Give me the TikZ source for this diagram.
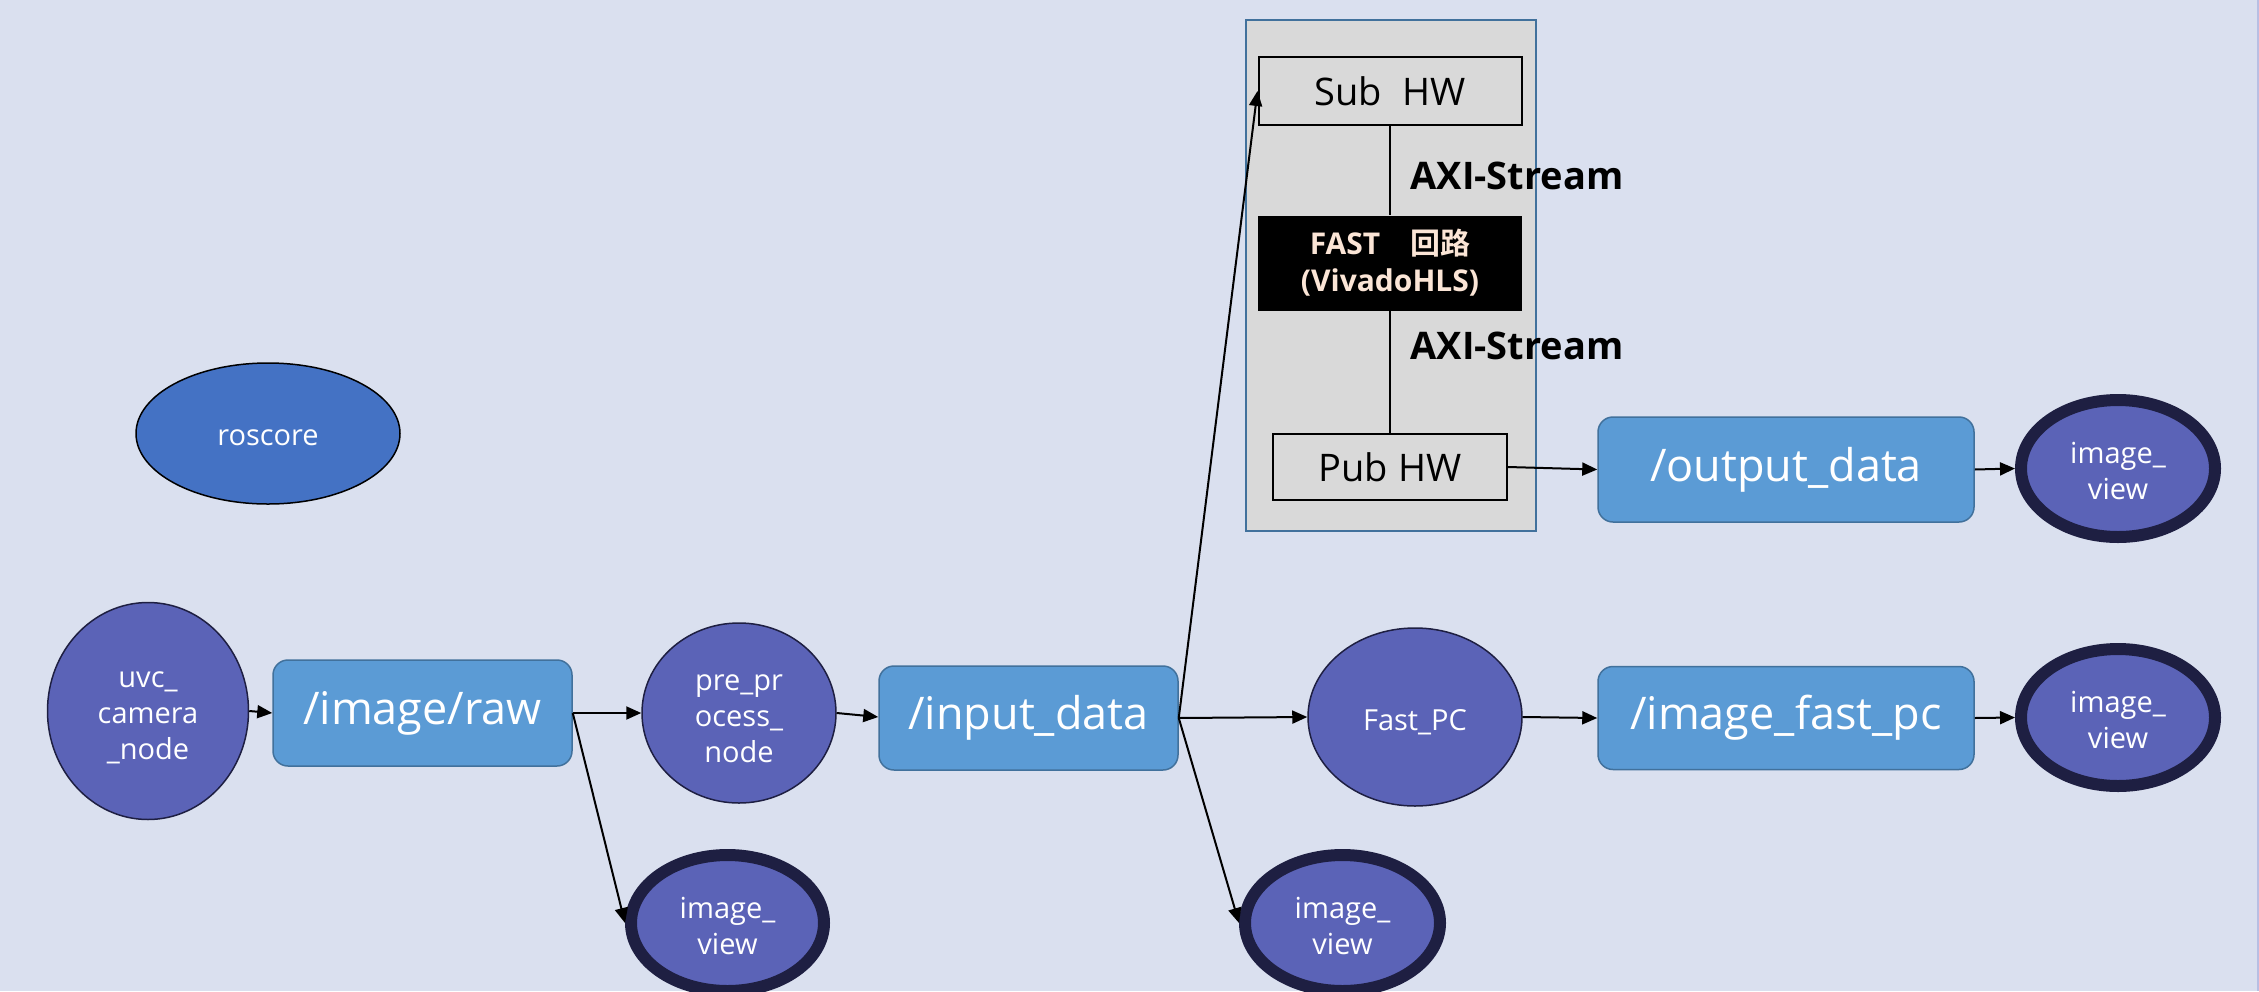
\documentclass[tikz,border=0pt]{standalone}
\usepackage{fontspec}
\setmainfont{Open Sans}
\newfontfamily\cjk{Noto Sans CJK JP}[BoldFont={* Bold}]
\usetikzlibrary{shapes.geometric,arrows.meta}
\definecolor{bgc}{HTML}{DAE0EF}
\definecolor{edgec}{HTML}{B8BFE3}
\definecolor{nodefill}{HTML}{5B63B7}
\definecolor{ringc}{HTML}{1E1F42}
\definecolor{corefill}{HTML}{4472C4}
\definecolor{topicfill}{HTML}{5B9BD5}
\definecolor{topicline}{HTML}{41719C}
\definecolor{hwgray}{HTML}{D9D9D9}
\definecolor{peach}{HTML}{FBE5D6}
% centred stack of lines whose baseline is the first line
\newcommand\stacklines[1]{\begin{tabular}[t]{@{}c@{}}#1\end{tabular}}
\tikzset{
  rosnode/.style={ellipse, draw=ringc, line width=1.5pt, fill=nodefill, text=white,
    inner sep=0pt, font=\fontsize{29}{36}\selectfont},
  viewnode/.style={rosnode, line width=12pt, text height=0pt, text depth=10pt},
  topic/.style={rectangle, rounded corners=15pt, draw=topicline, line width=1.5pt,
    fill=topicfill, text=white, inner sep=0pt, font=\fontsize{45}{54}\selectfont},
  hwbox/.style={rectangle, draw=black, line width=2pt, fill=hwgray, inner sep=0pt,
    font=\fontsize{38}{46}\selectfont},
  axilabel/.style={inner sep=0pt, font=\bfseries\fontsize{38}{46}\selectfont},
  flow/.style={draw=black, line width=2pt, -{Triangle[length=15pt,width=13pt]}},
  plain/.style={draw=black, line width=2pt}
}
\begin{document}
\begin{tikzpicture}[x=1pt,y=-1pt]
  % page background
  \fill[bgc] (0,0) rectangle (2259,991);
  \useasboundingbox (0,0) rectangle (2259,991);
  \draw[edgec, line width=1.5pt] (2258.2,0) -- (2258.2,991);

  % hardware container
  \draw[topicline, line width=2pt, fill=hwgray] (1246,20) rectangle (1536,531);

  % ROS nodes
  \node[rosnode, draw=black, fill=corefill, minimum width=264, minimum height=141,
        text height=23pt, text depth=0pt] (core) at (268,433.5) {roscore};
  \node[rosnode, minimum width=201, minimum height=217, text height=0pt, text depth=48pt]
        (uvc) at (148,711) {\stacklines{uvc\_\\camera\\\_node}};
  \node[rosnode, minimum width=194, minimum height=180, text height=0pt, text depth=44.6pt]
        (pp) at (739,713) {\stacklines{pre\_pr\\ocess\_\\node}};
  \node[rosnode, minimum width=214, minimum height=178, text height=26pt, text depth=0pt]
        (fpc) at (1415,717) {Fast\_PC};

  % viewers
  \node[viewnode, minimum width=193, minimum height=136] (iv1) at (727.5,923) {\stacklines{image\_\\view}};
  \node[viewnode, minimum width=195, minimum height=136] (iv2) at (1342.5,923) {\stacklines{image\_\\view}};
  \node[viewnode, minimum width=194, minimum height=137] (iv3) at (2118,468.5) {\stacklines{image\_\\view}};
  \node[viewnode, minimum width=194, minimum height=137] (iv4) at (2118,717.5) {\stacklines{image\_\\view}};

  % topics
  \node[topic, minimum width=299, minimum height=106] (raw) at (422.5,713) {/image/raw};
  \node[topic, minimum width=299, minimum height=104] (inp) at (1028.5,718) {/input\_data};
  \node[topic, minimum width=376, minimum height=103] (ifp) at (1786,718) {/image\_fast\_pc};
  \node[topic, minimum width=376, minimum height=105] (out) at (1786,469.5) {/output\_data};

  % hardware blocks
  \node[hwbox, minimum width=263, minimum height=68] (sub) at (1390,91) {Sub\ \ HW};
  \node[rectangle, fill=black, text=peach, inner sep=0pt, minimum width=264, minimum height=95,
        align=center, font=\bfseries\fontsize{30}{37}\selectfont] (fast) at (1390,263)
        {FAST\cjk{\bfseries　回路}\\(VivadoHLS)};
  \node[hwbox, minimum width=234, minimum height=66] (pub) at (1390,467) {Pub HW};

  % stream links
  \draw[plain] (sub.south -| fast.north) -- (fast.north);
  \draw[plain] (fast.south) -- (pub.north -| fast.south);
  \node[axilabel] (axi1) at (1517,176) {AXI-Stream};
  \node[axilabel] (axi2) at (1517,346) {AXI-Stream};

  % data flow
  \draw[flow] (uvc.east) -- (raw.west);
  \draw[flow] (raw.east) -- (pp.west);
  \draw[flow] (raw.east) -- (iv1.west);
  \draw[flow] (pp.east) -- ([yshift=1]inp.west);
  \draw[flow] (inp.east) -- (fpc.west);
  \draw[flow] (inp.east) -- (iv2.west);
  \draw[flow] (inp.east) -- (sub.west);
  \draw[flow] (fpc.east) -- (ifp.west);
  \draw[flow] (ifp.east) -- (iv4.west);
  \draw[flow] (pub.east) -- (out.west);
  \draw[flow] (out.east) -- (iv3.west);
\end{tikzpicture}
\end{document}
